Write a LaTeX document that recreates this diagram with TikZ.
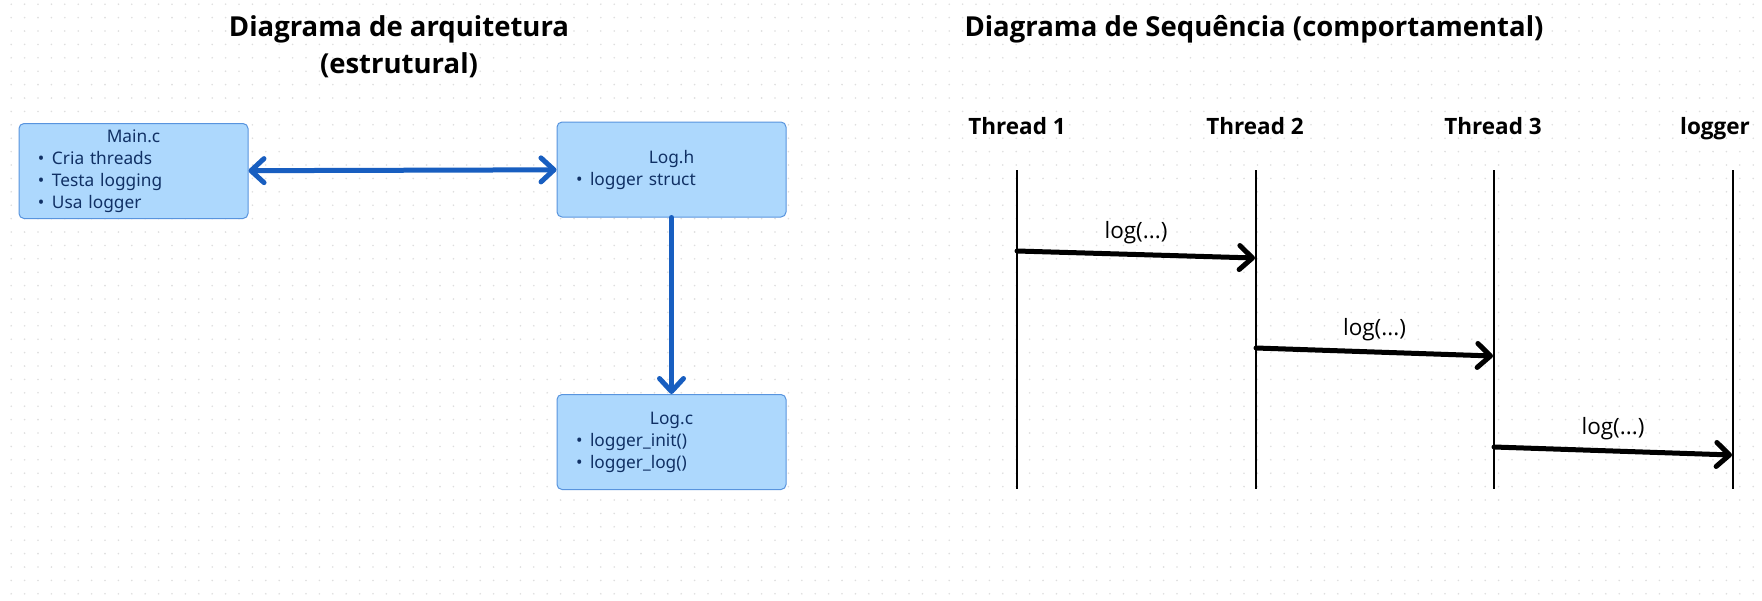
\documentclass[tikz,border=0pt]{standalone}
\usepackage{fontspec}
\setmainfont{Open Sans}
\newfontfamily\boxfont{Noto Sans}
\usetikzlibrary{arrows.meta}
\definecolor{boxfill}{RGB}{173,216,253}
\definecolor{boxline}{RGB}{88,148,222}
\definecolor{boxtext}{RGB}{16,48,100}
\definecolor{archblue}{RGB}{24,94,192}
\definecolor{griddot}{RGB}{222,222,222}
\newcommand{\itm}[1]{\hspace*{19pt}\makebox[14pt][l]{•}#1}
\newcommand{\ttl}[1]{\makebox[229pt][c]{#1}}
\tikzset{
  barb/.tip={Straight Barb[length=13pt,width=24pt,round]},
  archbox/.style={draw=boxline,line width=1pt,fill=boxfill,rounded corners=5pt,
    minimum height=95pt,text width=229pt,inner xsep=0pt,align=left,text=boxtext,
    font=\boxfont\fontsize{17.3}{22}\selectfont},
  archarrow/.style={draw=archblue,line width=5pt,line cap=round},
  heading/.style={align=center,font=\fontsize{27.5}{37}\selectfont\bfseries},
  actor/.style={font=\fontsize{22.5}{26}\selectfont\bfseries,text height=16pt,text depth=5pt},
  lifeline/.style={line width=1.5pt},
  msg/.style={line width=5pt,line cap=round,-barb},
  msglabel/.style={font=\fontsize{22.5}{26}\selectfont}
}
\begin{document}
\begin{tikzpicture}[x=1pt,y=-1pt]
\useasboundingbox (0,0) rectangle (1762,600);
\fill[white] (0,0) rectangle (1762,600);
% dotted canvas
\foreach \i in {0,...,130} {
  \foreach \j in {0,...,44} {
    \fill[griddot] (11.2+13.4*\i,4.2+13.4*\j) circle (0.9pt);
  }
}
% architecture
\node[heading](archtitle) at (399,47){Diagrama de arquitetura\\(estrutural)};
\node[archbox](mainc) at (133.5,171){\ttl{Main.c}\\\itm{Cria threads}\\\itm{Testa logging}\\\itm{Usa logger}};
\node[archbox](logh) at (671.5,169.5){\ttl{Log.h}\\\itm{logger struct}};
\node[archbox](logc) at (671.5,442){\ttl{Log.c}\\\itm{logger\_init()}\\\itm{logger\_log()}};
\draw[archarrow,barb-barb] (mainc) -- (logh);
\draw[archarrow,-barb] (logh) -- (logc);
% sequence
\node[heading](seqtitle) at (1254,29){Diagrama de Sequência (comportamental)};
\node[actor](t1) at (1017,129){Thread 1};
\node[actor](t2) at (1255,129){Thread 2};
\node[actor](t3) at (1493,129){Thread 3};
\node[actor](lg) at (1715,129){logger};
\coordinate (t1top) at (1017,170); \coordinate (t1bot) at (1017,489);
\coordinate (t2top) at (1256,170); \coordinate (t2bot) at (1256,489);
\coordinate (t3top) at (1494,170); \coordinate (t3bot) at (1494,489);
\coordinate (lgtop) at (1733,170); \coordinate (lgbot) at (1733,489);
\draw[lifeline] (t1top) -- (t1bot);
\draw[lifeline] (t2top) -- (t2bot);
\draw[lifeline] (t3top) -- (t3bot);
\draw[lifeline] (lgtop) -- (lgbot);
\coordinate (m1a) at (1017,251); \coordinate (m1b) at (1255,258);
\coordinate (m2a) at (1256,348); \coordinate (m2b) at (1493,356);
\coordinate (m3a) at (1494,447); \coordinate (m3b) at (1732,455);
\draw[msg] (m1a) -- (m1b) node[midway,msglabel,yshift=22pt]{log(...)};
\draw[msg] (m2a) -- (m2b) node[midway,msglabel,yshift=22pt]{log(...)};
\draw[msg] (m3a) -- (m3b) node[midway,msglabel,yshift=22pt]{log(...)};
\end{tikzpicture}
\end{document}
